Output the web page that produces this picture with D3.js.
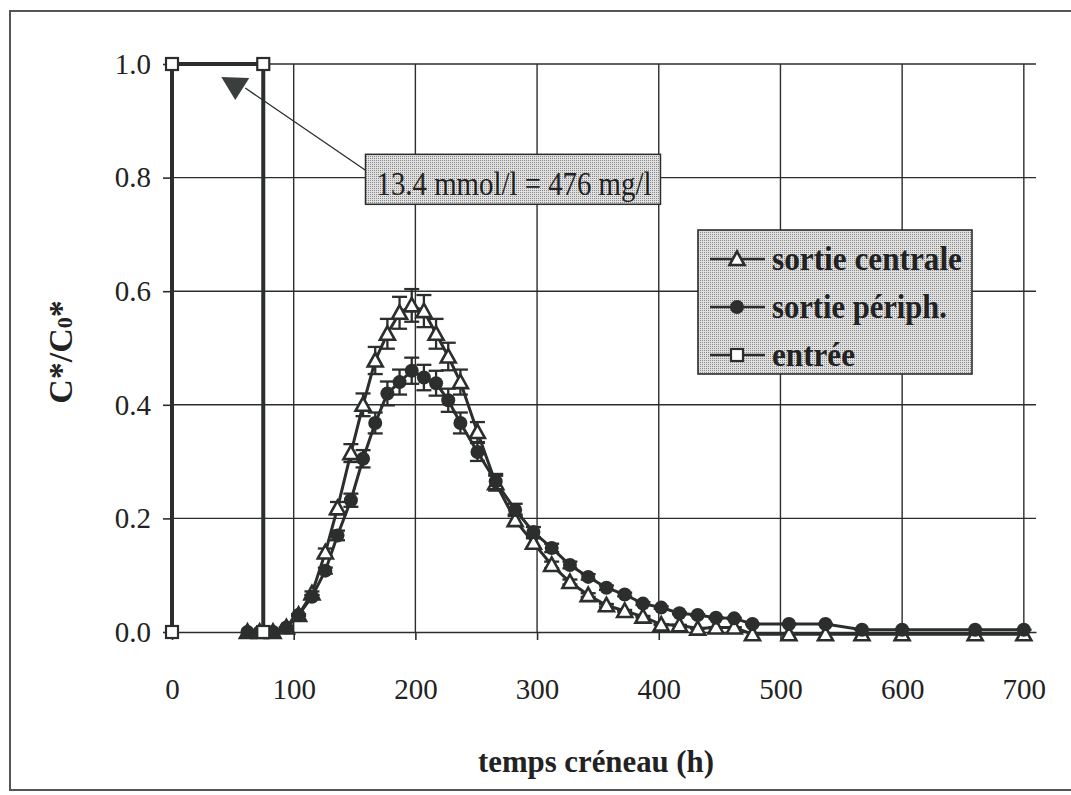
<!DOCTYPE html>
<html><head><meta charset="utf-8">
<script src="https://cdn.jsdelivr.net/npm/d3@7"></script>
<style>body{margin:0;background:#fff}svg{display:block}</style>
</head><body>
<svg id="chart" width="1071" height="795"></svg>
<script>
// ---------- data ----------
const times = [62,72,83,94,104,115,126,136,147,157,167,177,187,197,207,217,227,237,251,266,282,297,312,327,342,357,372,387,402,417,432,447,462,477,507,537,567,600,660,700];
const centrale = [0,0,0,0.008,0.03,0.068,0.14,0.218,0.315,0.40,0.478,0.525,0.562,0.575,0.565,0.525,0.485,0.44,0.352,0.262,0.197,0.157,0.118,0.088,0.065,0.047,0.037,0.027,0.013,0.012,0.006,0.008,0.008,-0.004,-0.004,-0.004,-0.004,-0.004,-0.004,-0.004];
const peripherique = [0,0,0,0.008,0.03,0.062,0.108,0.17,0.232,0.305,0.368,0.42,0.44,0.46,0.448,0.438,0.408,0.368,0.317,0.265,0.215,0.176,0.148,0.118,0.097,0.078,0.066,0.05,0.043,0.033,0.03,0.025,0.024,0.014,0.014,0.014,0.004,0.004,0.004,0.004];
const entreeTimes = [0,0,75,75];
const entreeValues = [0,1,1,0];
const errorPercent = 0.05;               // percentage error bars on the outlet series
const xTicks = [0,100,200,300,400,500,600,700];
const yTicks = [0,0.2,0.4,0.6,0.8,1.0];
const seriesNames = ["sortie centrale","sortie périph.","entrée"];
const xTitle = "temps créneau (h)";
const annotationText = "13.4 mmol/l = 476 mg/l";
const annotationPoint = {t: 52, v: 0.963};
const annotationBox = {t: 159, v: 0.841};

// ---------- layout ----------
const svg = d3.select("#chart");
const ink = "#2b2e2d";
const x = d3.scaleLinear().domain([0, 710]).range([172, 1036]);
const y = d3.scaleLinear().domain([0, 1]).range([632, 64]);

const defs = svg.append("defs");
const pat = defs.append("pattern").attr("id","stip").attr("width",2).attr("height",2).attr("patternUnits","userSpaceOnUse");
pat.append("rect").attr("width",2).attr("height",2).attr("fill","#e0e0e0");
pat.append("rect").attr("width",1).attr("height",1).attr("fill","#888");

// outer frame
svg.append("path").attr("d","M1075,11 L10,11 L10,790 L1075,790")
  .attr("fill","none").attr("stroke","#555").attr("stroke-width",2);

// gridlines
const g = svg.append("g");
g.selectAll(".vg").data(xTicks.filter(d=>d>0)).join("line")
  .attr("x1",d=>x(d)).attr("x2",d=>x(d)).attr("y1",y(0)).attr("y2",y(1))
  .attr("stroke",ink).attr("stroke-width",1.4);
g.selectAll(".hg").data(yTicks.filter(d=>d>0)).join("line")
  .attr("x1",x(0)).attr("x2",x(710)).attr("y1",d=>y(d)).attr("y2",d=>y(d))
  .attr("stroke",ink).attr("stroke-width",1.4);

// axes
const yAxis = svg.append("g").attr("transform",`translate(${x(0)},0)`)
  .call(d3.axisLeft(y).tickValues(yTicks).tickSize(9).tickSizeOuter(0).tickPadding(12).tickFormat(d3.format(".1f")));
const xAxis = svg.append("g").attr("transform",`translate(0,${y(0)})`)
  .call(d3.axisBottom(x).tickValues(xTicks).tickSize(8).tickSizeOuter(0).tickPadding(38).tickFormat(d3.format("d")));
[yAxis,xAxis].forEach(a=>{
  a.selectAll("path,line").attr("stroke",ink).attr("stroke-width",1.6);
  a.selectAll("text").attr("font-family","Liberation Serif").attr("font-size",29).attr("fill","#222");
});

// series
const lineGen = d3.line().x(d=>x(d.t)).y(d=>y(d.v));
const cData = times.map((t,i)=>({t, v: centrale[i]}));
const pData = times.map((t,i)=>({t, v: peripherique[i]}));
const eData = entreeTimes.map((t,i)=>({t, v: entreeValues[i]}));

svg.append("path").datum(eData).attr("d",lineGen).attr("fill","none").attr("stroke",ink).attr("stroke-width",4);
svg.append("path").datum(cData).attr("d",lineGen).attr("fill","none").attr("stroke",ink).attr("stroke-width",3);
svg.append("path").datum(pData).attr("d",lineGen).attr("fill","none").attr("stroke",ink).attr("stroke-width",3);

// error bars
function errBars(data){
  const eg = svg.append("g").attr("stroke",ink).attr("stroke-width",2.3);
  data.filter(d=>d.v>0).forEach(d=>{
    const hi = y(d.v*(1+errorPercent)), lo = y(d.v*(1-errorPercent)), cx = x(d.t);
    eg.append("line").attr("x1",cx).attr("x2",cx).attr("y1",hi).attr("y2",lo);
    eg.append("line").attr("x1",cx-7.5).attr("x2",cx+7.5).attr("y1",hi).attr("y2",hi);
    eg.append("line").attr("x1",cx-7.5).attr("x2",cx+7.5).attr("y1",lo).attr("y2",lo);
  });
}
errBars(cData); errBars(pData);

// markers
const triPath = "M0,-7.5 L7.5,6 L-7.5,6 Z";
function tri(sel){ sel.append("path").attr("d",triPath).attr("fill","#fff").attr("stroke",ink).attr("stroke-width",2.6); }
function dot(sel){ sel.append("circle").attr("r",7).attr("fill",ink); }
function sq(sel){ sel.append("rect").attr("x",-6).attr("y",-6).attr("width",12).attr("height",12).attr("fill","#fff").attr("stroke",ink).attr("stroke-width",2.2); }

svg.append("g").selectAll("g").data(cData).join("g").attr("transform",d=>`translate(${x(d.t)},${y(d.v)})`).call(tri);
svg.append("g").selectAll("g").data(pData).join("g").attr("transform",d=>`translate(${x(d.t)},${y(d.v)})`).call(dot);
svg.append("g").selectAll("g").data(eData).join("g").attr("transform",d=>`translate(${x(d.t)},${y(d.v)})`).call(sq);

// annotation
const ax = x(annotationPoint.t), ay = y(annotationPoint.v);
const bx = x(annotationBox.t), by = y(annotationBox.v);
svg.append("line").attr("x1",ax+10).attr("y1",ay+3).attr("x2",bx).attr("y2",by+16).attr("stroke",ink).attr("stroke-width",1.3);
svg.append("path").attr("d",`M${ax-14},${ay-8} L${ax+14},${ay-7} L${ax},${ay+15} Z`).attr("fill","#3a3f3d");
svg.append("rect").attr("x",bx).attr("y",by).attr("width",295).attr("height",50)
  .attr("fill","url(#stip)").attr("stroke",ink).attr("stroke-width",1.5);
svg.append("text").attr("x",bx+11).attr("y",by+41).text(annotationText)
  .attr("font-family","Liberation Serif").attr("font-size",34).attr("fill","#222")
  .attr("textLength",275).attr("lengthAdjust","spacingAndGlyphs");

// legend
const lg = svg.append("g").attr("transform","translate(698,230)");
lg.append("rect").attr("width",274).attr("height",144).attr("fill","url(#stip)").attr("stroke",ink).attr("stroke-width",1.6);
const legendMarkers = [tri, dot, sq];
const legendLengths = [190, 175, 83];
seriesNames.forEach((name,i)=>{
  const yy = 29 + i*48;
  const row = lg.append("g").attr("transform",`translate(0,${yy})`);
  row.append("line").attr("x1",12).attr("x2",67).attr("y1",0).attr("y2",0).attr("stroke",ink).attr("stroke-width",2.4);
  row.append("g").attr("transform","translate(39,0)").call(legendMarkers[i]);
  row.append("text").attr("x",74).attr("y",11).text(name)
    .attr("font-family","Liberation Serif").attr("font-weight","bold").attr("font-size",33).attr("fill","#222")
    .attr("textLength",legendLengths[i]).attr("lengthAdjust","spacingAndGlyphs");
});

// axis titles
svg.append("text").attr("x",596).attr("y",772).attr("text-anchor","middle").text(xTitle)
  .attr("font-family","Liberation Serif").attr("font-weight","bold").attr("font-size",31).attr("fill","#222")
  .attr("textLength",236).attr("lengthAdjust","spacingAndGlyphs");
const yt = svg.append("text").attr("transform","translate(72,352) rotate(-90)").attr("text-anchor","middle")
  .attr("font-family","Liberation Serif").attr("font-weight","bold").attr("font-size",34).attr("fill","#222");
yt.append("tspan").text("C*/C");
yt.append("tspan").attr("font-size",22).text("0");
yt.append("tspan").text("*");
</script>
</body></html>
